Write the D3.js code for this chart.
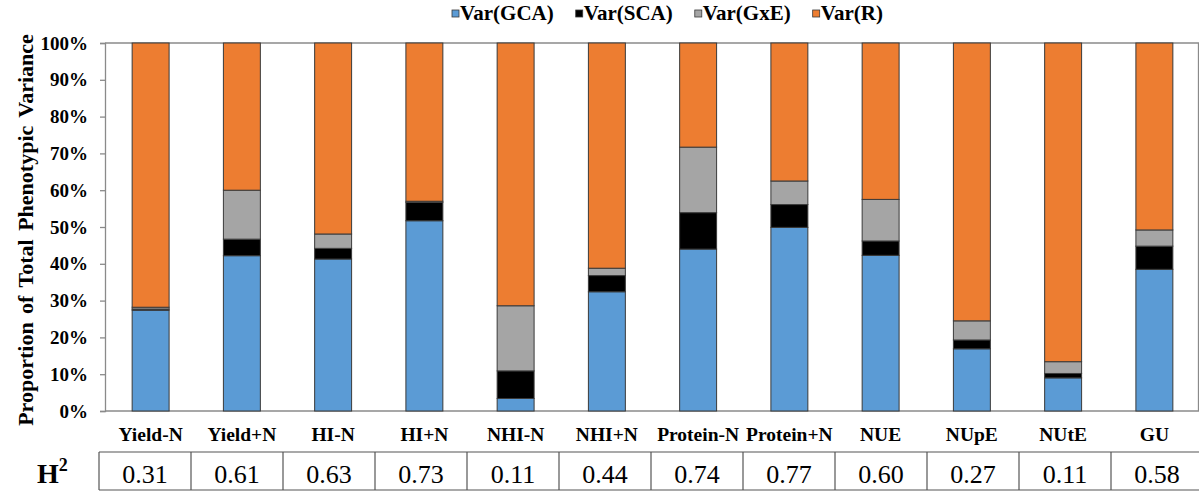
<!DOCTYPE html>
<html>
<head>
<meta charset="utf-8">
<script src="https://cdn.jsdelivr.net/npm/d3@7"></script>
<style>
  html, body { margin: 0; padding: 0; background: #ffffff; }
  svg { display: block; }
  svg text { font-family: "Liberation Serif", "DejaVu Serif", serif; }
</style>
</head>
<body>
<svg id="chart" width="1199" height="491"></svg>
<script>
const categories = ["Yield-N", "Yield+N", "HI-N", "HI+N", "NHI-N", "NHI+N", "Protein-N", "Protein+N", "NUE", "NUpE", "NUtE", "GU"];
const varGCA = [27.4, 42.2, 41.3, 51.7, 3.4, 32.4, 44.0, 49.9, 42.3, 16.9, 9.0, 38.5];
const varSCA = [0.3, 4.5, 2.9, 5.0, 7.5, 4.4, 9.9, 6.2, 3.9, 2.4, 1.2, 6.3];
const varGxE = [0.5, 13.3, 3.9, 0.3, 17.7, 2.0, 17.8, 6.4, 11.3, 5.2, 3.2, 4.4];
const varR   = [71.8, 40.0, 51.9, 43.0, 71.4, 61.2, 28.3, 37.5, 42.5, 75.5, 86.6, 50.8];
const heritability = ["0.31", "0.61", "0.63", "0.73", "0.11", "0.44", "0.74", "0.77", "0.60", "0.27", "0.11", "0.58"];
const seriesNames = ["Var(GCA)", "Var(SCA)", "Var(GxE)", "Var(R)"];
const seriesColors = ["#5B9BD5", "#000000", "#A5A5A5", "#ED7D31"];
const yTicks = [0, 10, 20, 30, 40, 50, 60, 70, 80, 90, 100];

const FONT = "'Liberation Serif', 'DejaVu Serif', serif";
const svg = d3.select("#chart");
const pLeft = 105, pRight = 1200, pTop = 43, pBottom = 411;

const x = d3.scaleBand().domain(categories).range([pLeft, pRight]).paddingInner(0.595).paddingOuter(0.2975);
const y = d3.scaleLinear().domain([0, 100]).range([pBottom, pTop]);

const rows = categories.map((c, i) => ({cat: c, GCA: varGCA[i], SCA: varSCA[i], GxE: varGxE[i], R: varR[i]}));
const stacked = d3.stack().keys(["GCA", "SCA", "GxE", "R"])(rows);

// frame
const frameColor = "#8a8a8a";
svg.append("line").attr("x1", pLeft).attr("x2", 1199).attr("y1", pTop).attr("y2", pTop)
  .attr("stroke", frameColor).attr("stroke-width", 1.3);
svg.append("line").attr("x1", 1198.5).attr("x2", 1198.5).attr("y1", pTop).attr("y2", pBottom)
  .attr("stroke", frameColor).attr("stroke-width", 1.3);
svg.append("line").attr("x1", pLeft).attr("x2", 1199).attr("y1", pBottom).attr("y2", pBottom)
  .attr("stroke", frameColor).attr("stroke-width", 1.3);

// bars
svg.append("g").selectAll("g").data(stacked).join("g")
  .attr("fill", (d, i) => seriesColors[i])
  .selectAll("rect").data(d => d).join("rect")
  .attr("x", d => x(d.data.cat))
  .attr("width", x.bandwidth())
  .attr("y", d => y(d[1]))
  .attr("height", d => y(d[0]) - y(d[1]))
  .attr("stroke", "#3a3a3a").attr("stroke-width", 1);

// y axis
const yAxis = svg.append("g").attr("transform", `translate(${pLeft},0)`)
  .call(d3.axisLeft(y).tickValues(yTicks).tickFormat(d => d + "%").tickSize(5).tickPadding(12));
yAxis.attr("font-family", FONT);
yAxis.select(".domain").attr("stroke", frameColor).attr("stroke-width", 1.3);
yAxis.selectAll(".tick line").attr("stroke", frameColor).attr("stroke-width", 1.3);
yAxis.selectAll(".tick text").attr("font-family", FONT)
  .attr("font-size", 19).attr("font-weight", "bold").attr("fill", "#000");

// x labels
svg.append("g").selectAll("text").data(categories).join("text")
  .attr("x", d => x(d) + x.bandwidth() / 2)
  .attr("y", 441)
  .attr("text-anchor", "middle")
  .attr("font-family", FONT)
  .attr("font-size", 19.5).attr("font-weight", "bold")
  .text(d => d);

// y title
svg.append("text")
  .attr("transform", "translate(33,230) rotate(-90)")
  .attr("text-anchor", "middle")
  .attr("font-family", FONT)
  .attr("font-size", 22).attr("font-weight", "bold")
  .attr("word-spacing", 3)
  .text("Proportion of Total Phenotypic Variance");

// legend
const legend = svg.append("g");
let lx = 452;
seriesNames.forEach((name, i) => {
  legend.append("rect").attr("x", lx).attr("y", 10).attr("width", 7).attr("height", 7)
    .attr("fill", seriesColors[i]).attr("stroke", "#3a3a3a").attr("stroke-width", 0.8);
  const t = legend.append("text").attr("x", lx + 8).attr("y", 20)
    .attr("font-family", FONT)
    .attr("font-size", 21).attr("font-weight", "bold").text(name);
  lx += 8 + t.node().getComputedTextLength() + 22;
});

// H2 table
const tx = d3.scaleBand().domain(categories).range([99, 1203]);
const tTop = 452, tBot = 490;
const table = svg.append("g");
table.append("line").attr("x1", 99).attr("x2", 1199).attr("y1", tTop).attr("y2", tTop)
  .attr("stroke", "#555").attr("stroke-width", 1.2);
table.append("line").attr("x1", 99).attr("x2", 1199).attr("y1", tBot).attr("y2", tBot)
  .attr("stroke", "#555").attr("stroke-width", 1.2);
table.selectAll("line.v").data(categories).join("line").attr("class", "v")
  .attr("x1", d => tx(d)).attr("x2", d => tx(d))
  .attr("y1", tTop).attr("y2", tBot)
  .attr("stroke", "#555").attr("stroke-width", 1.2);
table.selectAll("text.h").data(heritability).join("text").attr("class", "h")
  .attr("x", (d, i) => tx(categories[i]) + tx.bandwidth() / 2)
  .attr("y", 483)
  .attr("text-anchor", "middle")
  .attr("font-family", FONT)
  .attr("font-size", 26)
  .text(d => d);

const h2 = svg.append("text").attr("x", 37).attr("y", 483)
  .attr("font-family", FONT)
  .attr("font-size", 28).attr("font-weight", "bold");
h2.append("tspan").text("H");
h2.append("tspan").attr("font-size", 18).attr("dy", -12).text("2");
</script>
</body>
</html>
